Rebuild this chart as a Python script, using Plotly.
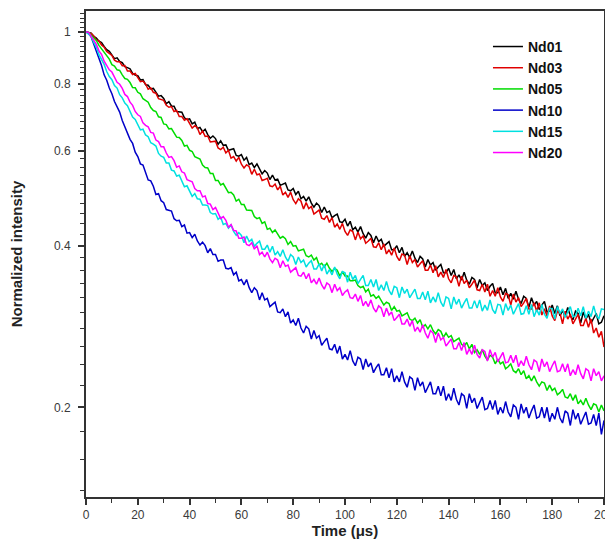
import plotly.graph_objects as go

# time axis, 1 microsecond steps
time_us = list(range(0, 201))

nd01 = [
    1.000, 0.996, 0.995, 0.981, 0.974, 0.961, 0.955, 0.940, 0.927, 0.920,
    0.908, 0.892, 0.895, 0.881, 0.877, 0.862, 0.858, 0.854, 0.837, 0.831,
    0.829, 0.814, 0.815, 0.797, 0.796, 0.783, 0.785, 0.770, 0.759, 0.761,
    0.752, 0.735, 0.742, 0.728, 0.727, 0.711, 0.710, 0.709, 0.692, 0.687,
    0.689, 0.674, 0.679, 0.661, 0.664, 0.652, 0.659, 0.644, 0.634, 0.640,
    0.633, 0.618, 0.627, 0.615, 0.616, 0.602, 0.604, 0.606, 0.589, 0.587,
    0.591, 0.577, 0.584, 0.566, 0.570, 0.559, 0.568, 0.554, 0.544, 0.552,
    0.546, 0.531, 0.541, 0.530, 0.532, 0.518, 0.521, 0.523, 0.508, 0.506,
    0.511, 0.498, 0.505, 0.489, 0.494, 0.484, 0.493, 0.480, 0.472, 0.480,
    0.475, 0.461, 0.472, 0.461, 0.464, 0.451, 0.455, 0.458, 0.443, 0.442,
    0.448, 0.435, 0.444, 0.428, 0.433, 0.424, 0.434, 0.421, 0.413, 0.423,
    0.418, 0.405, 0.417, 0.407, 0.411, 0.399, 0.403, 0.407, 0.393, 0.393,
    0.400, 0.388, 0.397, 0.382, 0.388, 0.380, 0.391, 0.379, 0.372, 0.382,
    0.378, 0.365, 0.377, 0.368, 0.372, 0.360, 0.365, 0.369, 0.356, 0.356,
    0.363, 0.352, 0.361, 0.347, 0.353, 0.345, 0.357, 0.345, 0.339, 0.349,
    0.346, 0.334, 0.346, 0.337, 0.341, 0.330, 0.336, 0.340, 0.327, 0.327,
    0.335, 0.324, 0.333, 0.319, 0.326, 0.318, 0.329, 0.318, 0.312, 0.322,
    0.319, 0.307, 0.320, 0.310, 0.315, 0.304, 0.310, 0.315, 0.301, 0.302,
    0.310, 0.299, 0.309, 0.296, 0.303, 0.295, 0.307, 0.296, 0.291, 0.302,
    0.299, 0.287, 0.301, 0.292, 0.298, 0.287, 0.293, 0.299, 0.286, 0.288,
    0.296]

nd03 = [
    1.000, 0.994, 0.993, 0.983, 0.966, 0.962, 0.946, 0.937, 0.920, 0.910,
    0.904, 0.886, 0.880, 0.880, 0.865, 0.866, 0.846, 0.846, 0.833, 0.837,
    0.820, 0.808, 0.810, 0.800, 0.782, 0.787, 0.772, 0.769, 0.751, 0.749,
    0.746, 0.730, 0.724, 0.726, 0.711, 0.714, 0.696, 0.696, 0.685, 0.689,
    0.673, 0.662, 0.669, 0.663, 0.644, 0.654, 0.639, 0.640, 0.624, 0.625,
    0.626, 0.608, 0.604, 0.610, 0.595, 0.602, 0.582, 0.586, 0.575, 0.584,
    0.567, 0.558, 0.566, 0.561, 0.543, 0.555, 0.542, 0.544, 0.529, 0.531,
    0.534, 0.517, 0.515, 0.521, 0.508, 0.516, 0.497, 0.503, 0.492, 0.503,
    0.487, 0.479, 0.489, 0.484, 0.468, 0.481, 0.469, 0.473, 0.458, 0.462,
    0.466, 0.450, 0.448, 0.455, 0.442, 0.451, 0.433, 0.439, 0.429, 0.440,
    0.425, 0.418, 0.428, 0.425, 0.410, 0.424, 0.412, 0.417, 0.404, 0.408,
    0.413, 0.398, 0.397, 0.405, 0.393, 0.403, 0.386, 0.393, 0.384, 0.396,
    0.382, 0.375, 0.386, 0.384, 0.369, 0.383, 0.372, 0.377, 0.365, 0.370,
    0.375, 0.360, 0.360, 0.368, 0.356, 0.367, 0.350, 0.357, 0.349, 0.361,
    0.347, 0.341, 0.352, 0.350, 0.336, 0.351, 0.340, 0.345, 0.334, 0.339,
    0.345, 0.331, 0.330, 0.339, 0.328, 0.339, 0.322, 0.330, 0.322, 0.334,
    0.321, 0.315, 0.326, 0.324, 0.310, 0.325, 0.314, 0.320, 0.308, 0.313,
    0.319, 0.305, 0.305, 0.313, 0.302, 0.313, 0.297, 0.305, 0.296, 0.309,
    0.296, 0.290, 0.302, 0.300, 0.286, 0.302, 0.292, 0.298, 0.286, 0.292,
    0.298, 0.284, 0.284, 0.293, 0.282, 0.292, 0.275, 0.281, 0.270, 0.277,
    0.259]

nd05 = [
    1.000, 0.999, 0.986, 0.975, 0.964, 0.944, 0.929, 0.917, 0.900, 0.890,
    0.869, 0.864, 0.850, 0.848, 0.832, 0.819, 0.816, 0.805, 0.788, 0.787,
    0.772, 0.767, 0.751, 0.746, 0.740, 0.723, 0.714, 0.711, 0.695, 0.693,
    0.674, 0.672, 0.660, 0.661, 0.647, 0.637, 0.636, 0.628, 0.613, 0.615,
    0.602, 0.599, 0.586, 0.583, 0.580, 0.565, 0.559, 0.558, 0.545, 0.545,
    0.529, 0.529, 0.519, 0.522, 0.510, 0.502, 0.503, 0.497, 0.484, 0.488,
    0.477, 0.477, 0.466, 0.466, 0.465, 0.453, 0.449, 0.451, 0.440, 0.443,
    0.429, 0.431, 0.423, 0.428, 0.419, 0.413, 0.416, 0.412, 0.402, 0.407,
    0.399, 0.400, 0.391, 0.392, 0.394, 0.383, 0.381, 0.384, 0.376, 0.380,
    0.368, 0.371, 0.365, 0.371, 0.363, 0.358, 0.363, 0.360, 0.351, 0.358,
    0.351, 0.351, 0.344, 0.344, 0.345, 0.337, 0.334, 0.336, 0.328, 0.332,
    0.322, 0.324, 0.319, 0.322, 0.315, 0.310, 0.314, 0.312, 0.303, 0.308,
    0.302, 0.303, 0.296, 0.298, 0.300, 0.292, 0.290, 0.293, 0.287, 0.291,
    0.282, 0.285, 0.280, 0.285, 0.278, 0.274, 0.279, 0.277, 0.270, 0.275,
    0.270, 0.272, 0.265, 0.267, 0.269, 0.262, 0.260, 0.264, 0.257, 0.262,
    0.253, 0.256, 0.251, 0.256, 0.249, 0.245, 0.250, 0.248, 0.241, 0.246,
    0.241, 0.243, 0.236, 0.238, 0.241, 0.234, 0.232, 0.236, 0.230, 0.234,
    0.226, 0.229, 0.224, 0.229, 0.223, 0.219, 0.223, 0.222, 0.215, 0.220,
    0.215, 0.217, 0.211, 0.213, 0.216, 0.209, 0.208, 0.212, 0.206, 0.211,
    0.203, 0.206, 0.202, 0.208, 0.202, 0.198, 0.203, 0.202, 0.196, 0.202,
    0.197]

nd10 = [
    1.000, 0.993, 0.979, 0.949, 0.918, 0.895, 0.866, 0.832, 0.813, 0.786,
    0.767, 0.742, 0.725, 0.709, 0.684, 0.666, 0.653, 0.631, 0.620, 0.597,
    0.586, 0.568, 0.565, 0.545, 0.530, 0.528, 0.516, 0.498, 0.500, 0.485,
    0.481, 0.467, 0.466, 0.464, 0.449, 0.445, 0.446, 0.434, 0.437, 0.422,
    0.423, 0.414, 0.420, 0.408, 0.401, 0.406, 0.400, 0.388, 0.395, 0.385,
    0.385, 0.374, 0.376, 0.376, 0.363, 0.362, 0.364, 0.353, 0.357, 0.344,
    0.346, 0.338, 0.346, 0.334, 0.327, 0.334, 0.330, 0.317, 0.327, 0.317,
    0.319, 0.308, 0.311, 0.314, 0.301, 0.300, 0.305, 0.295, 0.301, 0.287,
    0.291, 0.284, 0.293, 0.281, 0.275, 0.283, 0.280, 0.268, 0.278, 0.269,
    0.272, 0.261, 0.265, 0.269, 0.257, 0.256, 0.262, 0.252, 0.260, 0.246,
    0.251, 0.245, 0.255, 0.244, 0.239, 0.248, 0.246, 0.235, 0.246, 0.238,
    0.242, 0.232, 0.237, 0.241, 0.230, 0.230, 0.237, 0.227, 0.236, 0.223,
    0.229, 0.223, 0.233, 0.223, 0.218, 0.228, 0.226, 0.215, 0.227, 0.219,
    0.223, 0.213, 0.218, 0.223, 0.212, 0.212, 0.219, 0.210, 0.219, 0.206,
    0.212, 0.206, 0.217, 0.207, 0.202, 0.212, 0.210, 0.199, 0.212, 0.204,
    0.208, 0.199, 0.204, 0.209, 0.198, 0.199, 0.206, 0.198, 0.206, 0.194,
    0.200, 0.195, 0.205, 0.196, 0.192, 0.202, 0.200, 0.190, 0.203, 0.195,
    0.200, 0.191, 0.197, 0.202, 0.191, 0.192, 0.200, 0.191, 0.200, 0.188,
    0.195, 0.190, 0.200, 0.191, 0.187, 0.197, 0.195, 0.185, 0.198, 0.190,
    0.195, 0.186, 0.191, 0.196, 0.186, 0.187, 0.194, 0.185, 0.195, 0.178,
    0.189]

nd15 = [
    1.000, 0.990, 0.981, 0.956, 0.936, 0.907, 0.887, 0.870, 0.844, 0.826,
    0.815, 0.795, 0.786, 0.764, 0.754, 0.737, 0.729, 0.710, 0.694, 0.687,
    0.674, 0.657, 0.659, 0.643, 0.638, 0.622, 0.618, 0.613, 0.594, 0.587,
    0.584, 0.570, 0.570, 0.553, 0.551, 0.539, 0.541, 0.526, 0.515, 0.517,
    0.507, 0.494, 0.500, 0.489, 0.488, 0.476, 0.476, 0.475, 0.461, 0.458,
    0.459, 0.448, 0.452, 0.438, 0.440, 0.431, 0.437, 0.425, 0.418, 0.423,
    0.418, 0.405, 0.417, 0.407, 0.411, 0.399, 0.404, 0.408, 0.394, 0.394,
    0.401, 0.389, 0.399, 0.384, 0.390, 0.382, 0.393, 0.381, 0.374, 0.385,
    0.381, 0.369, 0.381, 0.372, 0.376, 0.365, 0.371, 0.375, 0.362, 0.362,
    0.370, 0.359, 0.369, 0.354, 0.361, 0.353, 0.365, 0.354, 0.347, 0.358,
    0.356, 0.342, 0.357, 0.346, 0.352, 0.340, 0.346, 0.352, 0.337, 0.337,
    0.346, 0.335, 0.346, 0.330, 0.338, 0.330, 0.343, 0.330, 0.324, 0.336,
    0.334, 0.320, 0.335, 0.326, 0.332, 0.320, 0.326, 0.332, 0.319, 0.319,
    0.328, 0.317, 0.329, 0.313, 0.321, 0.314, 0.327, 0.314, 0.308, 0.321,
    0.319, 0.305, 0.321, 0.311, 0.318, 0.306, 0.313, 0.319, 0.306, 0.306,
    0.316, 0.306, 0.317, 0.302, 0.310, 0.303, 0.317, 0.304, 0.299, 0.311,
    0.310, 0.297, 0.312, 0.303, 0.310, 0.298, 0.305, 0.312, 0.298, 0.299,
    0.309, 0.298, 0.311, 0.295, 0.304, 0.297, 0.311, 0.298, 0.293, 0.306,
    0.305, 0.292, 0.308, 0.299, 0.305, 0.294, 0.301, 0.308, 0.295, 0.296,
    0.306, 0.296, 0.308, 0.293, 0.302, 0.295, 0.309, 0.297, 0.292, 0.305,
    0.304]

nd20 = [
    1.000, 0.999, 0.981, 0.963, 0.948, 0.922, 0.908, 0.882, 0.868, 0.850,
    0.842, 0.823, 0.806, 0.799, 0.785, 0.765, 0.758, 0.740, 0.730, 0.711,
    0.701, 0.696, 0.677, 0.670, 0.666, 0.650, 0.648, 0.629, 0.625, 0.611,
    0.611, 0.595, 0.584, 0.586, 0.576, 0.560, 0.563, 0.549, 0.546, 0.531,
    0.528, 0.526, 0.511, 0.506, 0.506, 0.493, 0.495, 0.479, 0.478, 0.467,
    0.471, 0.458, 0.449, 0.453, 0.446, 0.433, 0.438, 0.427, 0.426, 0.413,
    0.413, 0.415, 0.402, 0.400, 0.405, 0.394, 0.400, 0.385, 0.389, 0.381,
    0.389, 0.378, 0.372, 0.379, 0.376, 0.364, 0.375, 0.366, 0.368, 0.357,
    0.361, 0.364, 0.352, 0.351, 0.357, 0.347, 0.355, 0.341, 0.346, 0.339,
    0.348, 0.338, 0.332, 0.341, 0.338, 0.327, 0.339, 0.330, 0.334, 0.323,
    0.328, 0.331, 0.320, 0.319, 0.325, 0.315, 0.323, 0.309, 0.315, 0.308,
    0.317, 0.306, 0.301, 0.309, 0.306, 0.295, 0.306, 0.297, 0.301, 0.290,
    0.294, 0.298, 0.286, 0.286, 0.292, 0.283, 0.290, 0.277, 0.282, 0.276,
    0.285, 0.275, 0.269, 0.278, 0.275, 0.264, 0.275, 0.267, 0.270, 0.260,
    0.264, 0.268, 0.257, 0.257, 0.264, 0.255, 0.264, 0.251, 0.257, 0.251,
    0.261, 0.251, 0.247, 0.256, 0.254, 0.244, 0.256, 0.248, 0.253, 0.243,
    0.248, 0.253, 0.242, 0.243, 0.250, 0.242, 0.250, 0.238, 0.244, 0.239,
    0.249, 0.240, 0.235, 0.245, 0.243, 0.233, 0.246, 0.238, 0.243, 0.233,
    0.239, 0.244, 0.233, 0.234, 0.241, 0.233, 0.241, 0.229, 0.235, 0.230,
    0.240, 0.231, 0.226, 0.236, 0.234, 0.224, 0.236, 0.229, 0.233, 0.224,
    0.229]

series_names = ["Nd01", "Nd03", "Nd05", "Nd10", "Nd15", "Nd20"]
series_values = [nd01, nd03, nd05, nd10, nd15, nd20]
series_colors = ["#000000", "#e00000", "#00dc00", "#0000c8", "#00e0e0", "#ff00ff"]

y_major_vals = [0.2, 0.4, 0.6, 0.8, 1.0]
y_major_text = ["0.2", "0.4", "0.6", "0.8", "1"]
y_minor_vals = [0.14, 0.16, 0.18, 0.22, 0.24, 0.26, 0.28, 0.30, 0.32, 0.34, 0.36, 0.38,
                0.42, 0.44, 0.46, 0.48, 0.50, 0.52, 0.54, 0.56, 0.58,
                0.62, 0.64, 0.66, 0.68, 0.70, 0.72, 0.74, 0.76, 0.78,
                0.82, 0.84, 0.86, 0.88, 0.90, 0.92, 0.94, 0.96, 0.98,
                1.02, 1.04, 1.06, 1.08]
y_range_log = [-0.866, 0.039]

# primary axis carries every tick (labels only on majors); overlay adds longer major ticks
y_all_vals = y_major_vals + y_minor_vals
y_all_text = y_major_text + [""] * len(y_minor_vals)

fig = go.Figure()
for name, vals, col in zip(series_names, series_values, series_colors):
    fig.add_trace(go.Scatter(x=time_us, y=vals, mode="lines", name=name,
                             line=dict(color=col, width=1.5)))

# helper trace to carry the overlay axis
fig.add_trace(go.Scatter(x=time_us[:1], y=nd01[:1], xaxis="x", yaxis="y2", mode="lines",
                         showlegend=False, hoverinfo="skip", opacity=0))

axis_color = "#333333"
tick_font = dict(size=12, color="#3a3a3a", family="Liberation Sans, Arial, sans-serif")
fig.update_layout(
    width=613, height=536,
    margin=dict(l=78, r=17, t=3, b=47),
    paper_bgcolor="white", plot_bgcolor="white",
    font=dict(family="Liberation Sans, Arial, sans-serif", color="#222222"),
    showlegend=True,
    legend=dict(x=0.776, y=0.959, xanchor="left", yanchor="top",
                bgcolor="rgba(0,0,0,0)", tracegroupgap=0,
                font=dict(size=14, family="Liberation Sans, Arial, sans-serif", color="#111111",
                          weight="bold")),
    xaxis=dict(range=[0, 200], tickmode="linear", tick0=0, dtick=20,
               ticks="outside", ticklen=6, tickwidth=1.5, tickcolor=axis_color,
               minor=dict(dtick=10, ticks="outside", ticklen=4, tickwidth=1.3,
                          tickcolor=axis_color, showgrid=False),
               showline=True, linewidth=2, linecolor=axis_color, mirror=True,
               showgrid=False, zeroline=False, automargin=False,
               tickfont=tick_font,
               title=dict(text="Time (μs)", standoff=4,
                          font=dict(size=15, color="#222222", weight="bold"))),
    yaxis=dict(type="log", range=y_range_log,
               tickmode="array", tickvals=y_all_vals, ticktext=y_all_text,
               ticks="outside", ticklen=4, tickwidth=1.3, tickcolor=axis_color,
               showline=True, linewidth=2, linecolor=axis_color, mirror=True,
               showgrid=False, zeroline=False, automargin=False,
               ticklabelstandoff=7,
               tickfont=tick_font,
               title=dict(text="Normalized intensity", standoff=30,
                          font=dict(size=15, color="#222222", weight="bold"))),
    yaxis2=dict(type="log", range=y_range_log, overlaying="y", side="left", anchor="x",
                tickmode="array", tickvals=y_major_vals, showticklabels=False,
                ticks="outside", ticklen=7, tickwidth=1.5, tickcolor=axis_color,
                showline=False, showgrid=False, zeroline=False, automargin=False),
)

fig.write_html("out.html")
